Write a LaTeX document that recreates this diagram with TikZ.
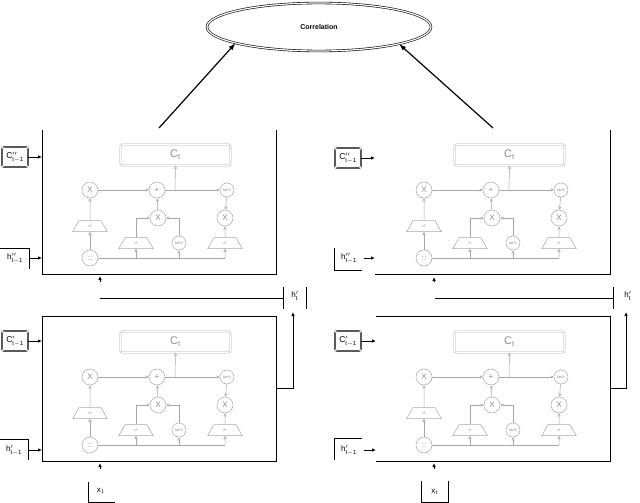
\documentclass[tikz,border=0pt]{standalone}
\usepackage{fontspec}
\setmainfont{Liberation Sans}
\usetikzlibrary{shapes.geometric,arrows.meta}
\begin{document}
\begin{tikzpicture}[x=1pt,y=-1pt,
  g/.style={draw=black!35,line width=0.5pt},
  ga/.style={g,-{Triangle[open,length=3pt,width=3pt]}},
  op/.style={circle,g,minimum size=16pt,inner sep=0pt,text=black!45,font=\fontsize{8}{8}\selectfont},
  sop/.style={circle,g,minimum size=14pt,inner sep=0pt,text=black!45,font=\fontsize{4}{4}\selectfont},
  tz/.style={trapezium,g,trapezium angle=60,minimum width=24pt,minimum height=11pt,inner sep=0pt,text=black!45,font=\fontsize{5}{5}\selectfont},
  ctb/.style={draw=black!35,double=white,double distance=1pt,rounded corners=2pt,minimum width=110pt,minimum height=21pt,text=black!45,font=\fontsize{11}{11}\selectfont},
  fr/.style={draw=black,line width=0.8pt},
  ba/.style={fr,-{Latex[length=4pt,width=3.5pt]}},
  inb/.style={draw=black,double=white,double distance=0.8pt,rounded corners=2pt,minimum width=26pt,minimum height=20pt,inner sep=1pt,font=\fontsize{8.5}{8.5}\selectfont},
  lb/.style={font=\fontsize{8}{8}\selectfont,inner sep=0pt}]
\useasboundingbox (0,0) rectangle (640,503);
\newcommand{\lstmcell}[2]{%
\begin{scope}[shift={(#1)},name prefix=#2-]
  \node[ctb] (ct) at (175.5,155) {C$_\mathrm{t}$};
  \node[op] (x1) at (90,190) {X};
  \node[op] (pl) at (157,190) {+};
  \node[sop] (th) at (227,190) {tanh};
  \node[op] (x2) at (158,218) {X};
  \node[op] (x3) at (225,218) {X};
  \node[tz] (s1) at (90,226) {$\sigma$};
  \node[tz] (s2) at (136,243) {$\sigma$};
  \node[sop] (tn) at (179,243) {tanh};
  \node[tz] (s3) at (225,243) {$\sigma$};
  \node[op] (cc) at (90,258) {::};
  \coordinate (j) at (175,190);
  \coordinate (e) at (225,258);
  \draw[ga] (cc) -- (s1);
  \draw[ga] (s1) -- (x1);
  \draw[ga] (x1) -- (pl);
  \draw[ga] (x2) -- (pl);
  \draw[ga] (pl) -- (th);
  \draw[ga] (j) -- (ct.south);
  \draw[ga] (th) -- (x3);
  \draw[ga] (s3) -- (x3);
  \draw[ga] (s2.north) |- (x2.west);
  \draw[ga] (tn.north) |- (x2.east);
  \draw[g] (cc.east) -- (e);
  \draw[ga] (s2.south |- e) -- (s2.south);
  \draw[ga] (tn.south |- e) -- (tn.south);
  \draw[ga] (e) -- (s3.south);
\end{scope}}
% ellipse
\node[ellipse,draw=black,double=white,double distance=1.2pt,line width=0.6pt,minimum width=224pt,minimum height=48pt,font=\bfseries\fontsize{7}{7}\selectfont] (corr) at (319,27) {Correlation};
\coordinate (la) at (159,128);
\coordinate (ra) at (493,128);
\draw[fr,line width=1.2pt,-{Latex[length=7pt,width=5pt]}] (la) -- (corr.191);
\draw[fr,line width=1.2pt,-{Latex[length=7pt,width=5pt]}] (ra) -- (corr.348);
% cells
\lstmcell{0,0}{A}
\lstmcell{334,0}{B}
\lstmcell{0,187}{C}
\lstmcell{334,187}{D}
% frames
\draw[fr] (42,130) -- (42,274) -- (276,274) -- (276,130);
\draw[fr] (375,274) -- (610,274) -- (610,130);
\draw[fr] (42,316) rectangle (276,461);
\draw[fr] (376,316) -- (610,316) -- (610,461) -- (376,461);
% inputs top-left
\node[inb] (c1) at (15,157) {C$''_{\mathrm{t-1}}$};
\draw[ba] (c1.east) -- (42,157);
\node[lb] (h1) at (15,258) {h$''_{\mathrm{t-1}}$};
\draw[fr] (0,248) -- (29,248) -- (29,269);
\draw[ba] (29,258) -- (42,258);
% inputs bottom-left
\node[inb] (c2) at (15,341) {C$'_{\mathrm{t-1}}$};
\draw[ba] (c2.east) -- (42,341);
\node[lb] (h2) at (14,450) {h$'_{\mathrm{t-1}}$};
\draw[fr] (0,439) -- (28,439) -- (28,460);
\draw[ba] (28,450) -- (42,450);
% inputs top-right
\node[inb] (c3) at (348,158) {C$''_{\mathrm{t-1}}$};
\draw[ba] (c3.east) -- (375,158);
\node[lb] (h3) at (349,258) {h$''_{\mathrm{t-1}}$};
\draw[fr] (334,248) -- (334,270) -- (362,270);
\draw[ba] (364,258) -- (375,258);
% inputs bottom-right
\node[inb] (c4) at (348,341) {C$'_{\mathrm{t-1}}$};
\draw[ba] (c4.east) -- (376,341);
\node[lb] (h4) at (349,450) {h$'_{\mathrm{t-1}}$};
\draw[fr] (334,460) -- (334,438) -- (362,438);
\draw[ba] (364,450) -- (376,450);
% small up arrows under cells
\draw[ba] (100,282) -- (100,276);
\draw[ba] (434,282) -- (434,277);
\draw[ba] (100,469) -- (100,463);
\draw[ba] (434,469) -- (434,463);
% x inputs
\node[lb] (x1in) at (101,491) {x$_1$};
\draw[fr] (88,482) -- (88,502) -- (115,502);
\node[lb] (xtin) at (435,492) {x$_t$};
\draw[fr] (421,481) -- (421,502) -- (448,502) -- (448,481);
% h'_t outputs
\draw[fr] (100,298) -- (283,298);
\draw[fr] (283,287) -- (283,309);
\node[lb] (ht1) at (295,296) {h$'_{\mathrm{t}}$};
\draw[fr] (306,287) -- (306,309);
\draw[ba] (276,388) -- (293,388) -- (293,312);
\draw[fr] (435,298) -- (613,298);
\draw[fr] (613,287) -- (613,309);
\node[lb] (ht2) at (628,296) {h$'_{\mathrm{t}}$};
\draw[ba] (610,388) -- (626,388) -- (626,312);
\end{tikzpicture}
\end{document}
